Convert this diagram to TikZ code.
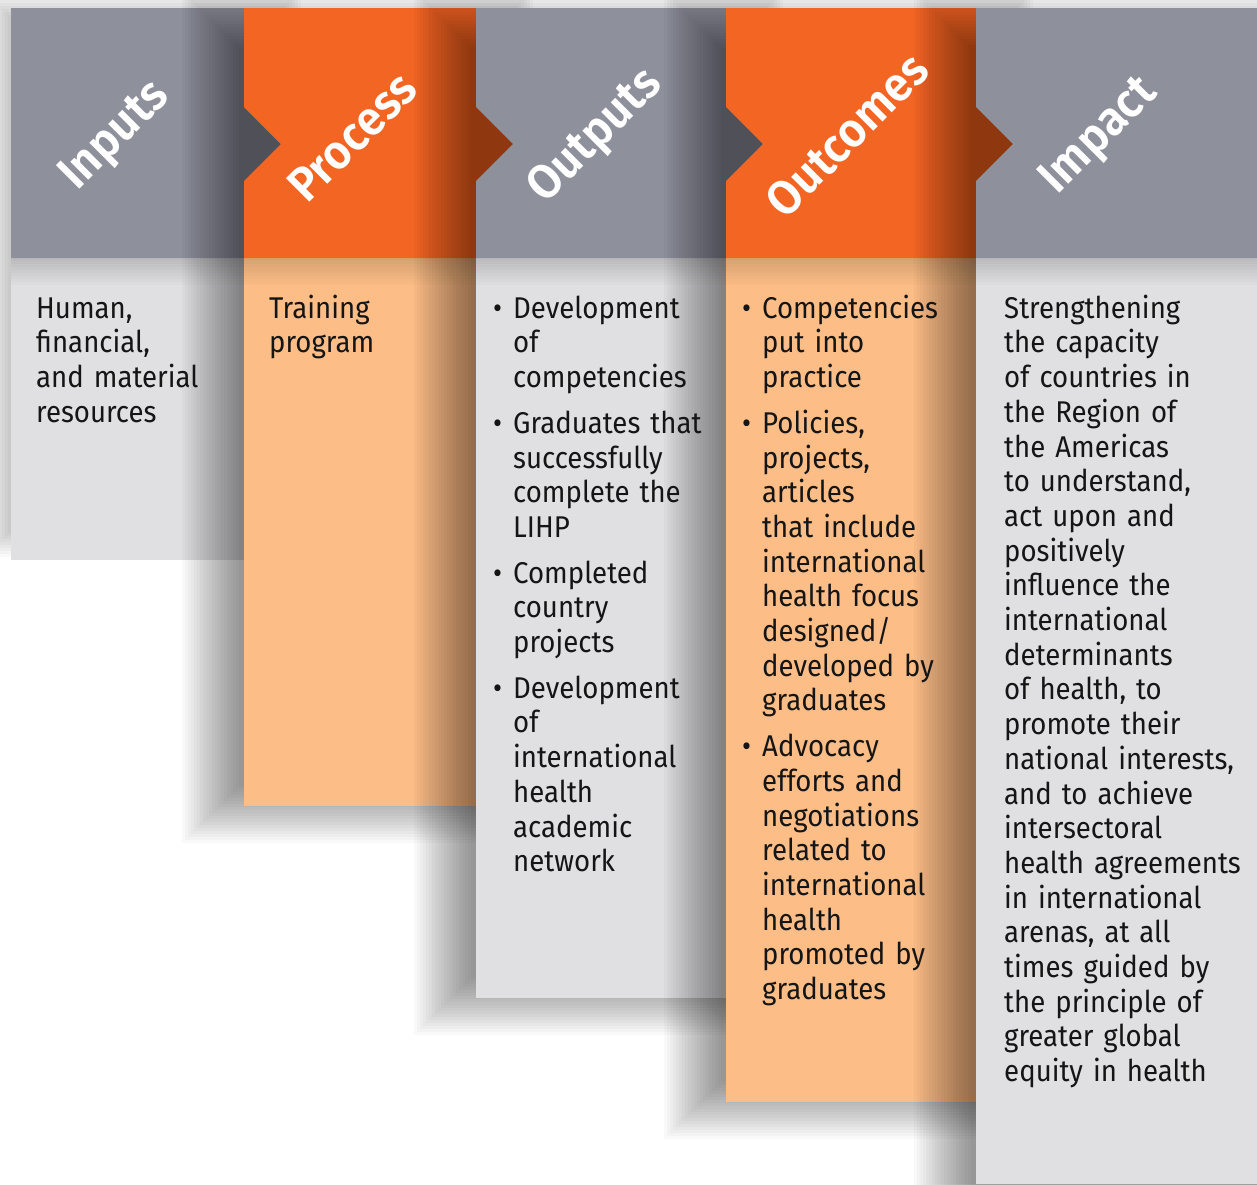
\documentclass[tikz,border=0pt]{standalone}
\usepackage{fontspec}
\setmainfont{Fira Sans}[FakeStretch=0.92]
\newfontfamily\titlefont{Fira Sans SemiBold}[FakeStretch=0.95]
\definecolor{hdrgray}{HTML}{8E909C}
\definecolor{hdrorange}{HTML}{F36523}
\definecolor{bodygray}{HTML}{E0E0E3}
\definecolor{bodyorange}{HTML}{FCBD87}
\definecolor{txtcol}{HTML}{151515}
\newcommand\colshadow[4]{%
  \foreach \k in {0,...,19}{\fill[black,opacity=0.022] ({#1-3*\k},{#2-3*\k}) rectangle ({#3+3*\k},{#4+3*\k});}}
\newcommand\hdrshadow[3]{%
  \begin{scope}\clip (#1,258) rectangle (#2,#3);
  \foreach \k in {0,...,9}{\fill[black,opacity=0.015] ({#1-100},8) rectangle ({#2+100},{258+3*\k});}
  \end{scope}}
\newcommand\myitem[1]{\hangindent=20pt\hangafter=1\noindent\makebox[20pt][l]{•}{\let\\\newline #1}}
\newcommand\itemgap{\par\vspace{11pt}}
\begin{document}
\begin{tikzpicture}[x=1pt,y=-1pt,
  title/.style={text=white,font=\fontsize{48}{52}\selectfont\titlefont,inner sep=0pt,rotate=45},
  txt/.style={text=txtcol,font=\fontsize{30}{34.7}\selectfont,inner sep=0pt,align=left,text width=#1,anchor=north west}]
\useasboundingbox (0,0) rectangle (1257,1184);
\fill[white] (0,0) rectangle (1257,1184);
% ---- column 1: Inputs
\colshadow{41}{48}{244}{500}
\fill[bodygray] (11,258) rectangle (244,560);
\hdrshadow{11}{244}{560}
\fill[hdrgray] (11,8) -- (244,8) -- (244,107) -- (281,144) -- (244,181) -- (244,258) -- (11,258) -- cycle;
% ---- column 2: Process
\colshadow{239}{48}{476}{786}
\fill[bodyorange] (244,258) rectangle (476,806);
\hdrshadow{244}{476}{806}
\fill[hdrorange] (244,8) -- (476,8) -- (476,107) -- (513,144) -- (476,181) -- (476,258) -- (244,258) -- (244,181) -- (281,144) -- (244,107) -- cycle;
% ---- column 3: Outputs
\colshadow{471}{48}{726}{978}
\fill[bodygray] (476,258) rectangle (726,998);
\hdrshadow{476}{726}{998}
\fill[hdrgray] (476,8) -- (726,8) -- (726,107) -- (763,144) -- (726,181) -- (726,258) -- (476,258) -- (476,181) -- (513,144) -- (476,107) -- cycle;
% ---- column 4: Outcomes
\colshadow{721}{48}{976}{1082}
\fill[bodyorange] (726,258) rectangle (976,1102);
\hdrshadow{726}{976}{1102}
\fill[hdrorange] (726,8) -- (976,8) -- (976,107) -- (1013,144) -- (976,181) -- (976,258) -- (726,258) -- (726,181) -- (763,144) -- (726,107) -- cycle;
% ---- column 5: Impact
\colshadow{971}{48}{1257}{1250}
\fill[bodygray] (976,258) rectangle (1257,1184);
\hdrshadow{976}{1257}{1184}
\fill[hdrgray] (976,8) -- (1257,8) -- (1257,258) -- (976,258) -- (976,181) -- (1013,144) -- (976,107) -- cycle;
% ---- titles
\node[title] (tin) at (116,137) {Inputs};
\node[title] (tpr) at (352,137) {Process};
\node[title] (tou) at (596,137) {Outputs};
\node[title] (toc) at (847,135) {Outcomes};
\node[title] (tim) at (1100,137) {Impact};
% ---- body texts
\node[txt=200pt] (bin) at (36,294) {\rule{0pt}{24pt}Human,\\financial,\\and material\\resources};
\node[txt=200pt] (bpr) at (269,294) {\rule{0pt}{24pt}Training\\program};
\node[txt=230pt] (bou) at (493,294) {%
\myitem{\rule{0pt}{24pt}Development\\of\\competencies}\itemgap
\myitem{Graduates that\\successfully\\complete the\\LIHP}\itemgap
\myitem{Completed\\country\\projects}\itemgap
\myitem{Development\\of\\international\\health\\academic\\network}\par};
\node[txt=230pt] (boc) at (742,294) {%
\myitem{\rule{0pt}{24pt}Competencies\\put into\\practice}\itemgap
\myitem{Policies,\\projects,\\articles\\that include\\international\\health focus\\designed/\\developed by\\graduates}\itemgap
\myitem{Advocacy\\efforts and\\negotiations\\related to\\international\\health\\promoted by\\graduates}\par};
\node[txt=260pt] (bim) at (1004,294) {\rule{0pt}{24pt}Strengthening\\the capacity\\of countries in\\the Region of\\the Americas\\to understand,\\act upon and\\positively\\influence the\\international\\determinants\\of health, to\\promote their\\national interests,\\and to achieve\\intersectoral\\health agreements\\in international\\arenas, at all\\times guided by\\the principle of\\greater global\\equity in health};
\end{tikzpicture}
\end{document}
